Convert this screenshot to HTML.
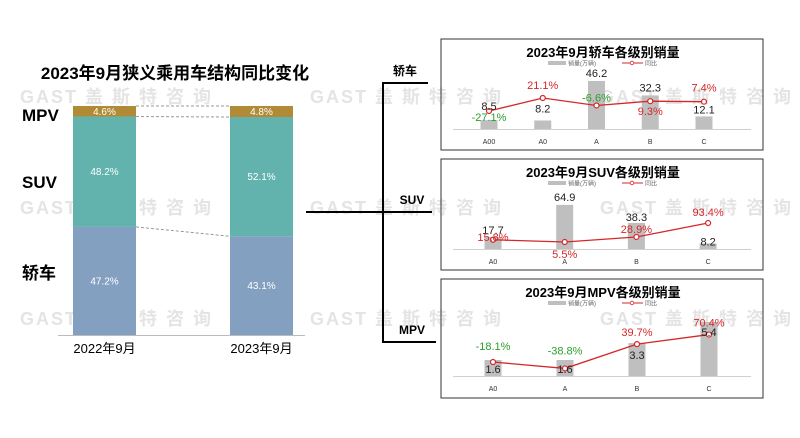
<!DOCTYPE html>
<html><head><meta charset="utf-8"><style>
html,body{margin:0;padding:0;background:#fff;}
svg{display:block;font-family:"Liberation Sans","Noto Sans CJK SC",sans-serif;}
</style></head><body>
<svg id="c" width="800" height="438" viewBox="0 0 800 438" xmlns="http://www.w3.org/2000/svg"></svg>
<script>
// ---- Left stacked chart data ----
const years = ["2022年9月","2023年9月"];
const sedanShare = [47.2, 43.1];
const suvShare = [48.2, 52.1];
const mpvShare = [4.6, 4.8];
// ---- Panel data ----
const sedanCats = ["A00","A0","A","B","C"];
const sedanSales = [8.5, 8.2, 46.2, 32.3, 12.1];
const sedanYoY = [-27.1, 21.1, -6.6, 9.3, 7.4];
const suvCats = ["A0","A","B","C"];
const suvSales = [17.7, 64.9, 38.3, 8.2];
const suvYoY = [15.8, 5.5, 28.9, 93.4];
const mpvCats = ["A0","A","B","C"];
const mpvSales = [1.6, 1.6, 3.3, 5.4];
const mpvYoY = [-18.1, -38.8, 39.7, 70.4];

const NS="http://www.w3.org/2000/svg";
const svg=document.getElementById('c');
function mk(tag,attrs,parent){const e=document.createElementNS(NS,tag);for(const k in attrs)e.setAttribute(k,attrs[k]);(parent||svg).appendChild(e);return e;}
function txt(s,attrs,parent){const e=mk('text',attrs,parent);e.textContent=s;return e;}

// ---- Watermarks (behind) ----
[96,207,318].forEach(y=>{[20,310,600].forEach(x=>{
  const w=txt('GAST 盖 斯 特 咨 询',{x:x,y:y+7,'font-size':18,'font-weight':'bold',fill:'#e4e4e4','letter-spacing':'2'});
  
  
});});

// ---- Left chart ----
const L={base:335,top:106,xs:[73,230],w:63};
const yL=v=>L.base-(v/100)*(L.base-L.top);
let e;
e=txt("2023年9月狭义乘用车结构同比变化",{x:175,y:79,'text-anchor':'middle','font-size':17,'font-weight':'bold',fill:'#000'});

[["MPV",121],["SUV",188],["轿车",279]].forEach(([s,y])=>{
  e=txt(s,{x:22,y:y,'font-size':17,'font-weight':'bold',fill:'#000'});
  
});
const segs=[[sedanShare,'#84a0c0','sedan'],[suvShare,'#62b2ae','suv'],[mpvShare,'#b08a35','mpv']];
const bounds=[];
years.forEach((yr,i)=>{
  let cum=0;const b=[];
  segs.forEach(([arr,col,nm])=>{
    const y0=yL(cum),y1=yL(cum+arr[i]);
    e=mk('rect',{x:L.xs[i],y:y1,width:L.w,height:y0-y1,fill:col});
    
    e=txt(arr[i].toFixed(1)+'%',{x:L.xs[i]+L.w/2,y:(y0+y1)/2+3.5,'text-anchor':'middle','font-size':10,fill:'#fff'});
    
    cum+=arr[i];b.push(y1);
  });
  bounds.push(b);
  e=txt(yr,{x:L.xs[i]+L.w/2,y:353,'text-anchor':'middle','font-size':13,fill:'#000'});
  
});
[0,1,2].forEach(k=>{
  e=mk('line',{x1:L.xs[0]+L.w,y1:bounds[0][k],x2:L.xs[1],y2:bounds[1][k],stroke:'#999','stroke-dasharray':'3,2','stroke-width':1});
  
});
e=mk('line',{x1:58,y1:335.5,x2:305,y2:335.5,stroke:'#bbb','stroke-width':1});


// ---- Bracket ----
const br=mk('g',{});
mk('path',{d:'M428 83 H383 V342 H436 M306 212 H432',stroke:'#000','stroke-width':2,fill:'none'},br);
[["轿车",405,75],["SUV",412,204],["MPV",412,334]].forEach(([s,x,y])=>{
  e=txt(s,{x:x,y:y,'text-anchor':'middle','font-size':12,'font-weight':'bold',fill:'#000'},br);
  
});

// ---- Panels ----
function panel(cfg){
  const g=mk('g',{});
  e=mk('rect',{x:cfg.bx,y:cfg.by,width:322,height:cfg.bh,fill:'none',stroke:'#333','stroke-width':1},g);
  
  e=txt(cfg.title,{x:603,y:cfg.by+18,'text-anchor':'middle','font-size':13,'font-weight':'bold',fill:'#000'},g);
  
  const ly=cfg.by+24;
  const lg=mk('g',{},g);
  mk('rect',{x:548,y:ly-2,width:18,height:4,fill:'#bfbfbf'},lg);
  txt('销量(万辆)',{x:568,y:ly+2.5,'font-size':6,fill:'#666'},lg);
  mk('line',{x1:622,y1:ly,x2:643,y2:ly,stroke:'#d62728','stroke-width':1},lg);
  mk('circle',{cx:632,cy:ly,r:1.8,fill:'#fff',stroke:'#d62728','stroke-width':0.8},lg);
  txt('同比',{x:645,y:ly+2.5,'font-size':6,fill:'#666'},lg);
  const xs=cfg.cats.map((c,i)=>cfg.x0+i*cfg.step);
  const yBar=v=>cfg.base-v*cfg.scale;
  const yPct=v=>cfg.p0-v*cfg.pk;
  e=mk('line',{x1:cfg.bx+12,y1:cfg.base+0.5,x2:cfg.bx+310,y2:cfg.base+0.5,stroke:'#d0d0d0','stroke-width':1},g);
  
  cfg.cats.forEach((c,i)=>{
    const t=yBar(cfg.sales[i]);
    e=mk('rect',{x:xs[i]-8.5,y:t,width:17,height:cfg.base-t,fill:'#bfbfbf'},g);
    
    e=txt(c,{x:xs[i],y:cfg.base+15,'text-anchor':'middle','font-size':7,fill:'#333'},g);
    
  });
  const pts=cfg.yoy.map((v,i)=>[xs[i],yPct(v)]);
  e=mk('polyline',{points:pts.map(p=>p.join(',')).join(' '),stroke:'#d62728','stroke-width':1.3,fill:'none'},g);
  
  cfg.cats.forEach((c,i)=>{
    e=mk('circle',{cx:pts[i][0],cy:pts[i][1],r:2.5,fill:'#fff',stroke:'#d62728','stroke-width':1.2},g);
    
    e=txt(cfg.sales[i].toFixed(1),{x:xs[i],y:yBar(cfg.sales[i])+cfg.sdy[i],'text-anchor':'middle','font-size':11,fill:'#222'},g);
    
    const v=cfg.yoy[i];
    e=txt(v.toFixed(1)+'%',{x:xs[i],y:pts[i][1]+cfg.pdy[i],'text-anchor':'middle','font-size':11,fill:v<0?'#2ca02c':'#d62728'},g);
    
  });
}
panel({name:'sedan-panel',title:'2023年9月轿车各级别销量',bx:441,by:39,bh:111,cats:sedanCats,sales:sedanSales,yoy:sedanYoY,
  x0:489,step:53.75,base:129,scale:1.04,p0:103.7,pk:0.27,sdy:[-10,-8,-4,-4,-3],pdy:[10,-9,-4,14,-10]});
panel({name:'suv-panel',title:'2023年9月SUV各级别销量',bx:441,by:159,bh:111,cats:suvCats,sales:suvSales,yoy:suvYoY,
  x0:493,step:71.7,base:249,scale:0.68,p0:243.2,pk:0.216,sdy:[-3,-4,-2,2],pdy:[1,16,-4,-7]});
panel({name:'mpv-panel',title:'2023年9月MPV各级别销量',bx:441,by:279,bh:119,cats:mpvCats,sales:mpvSales,yoy:mpvYoY,
  x0:493,step:72,base:376,scale:10,p0:356.4,pk:0.31,sdy:[13,13,16,14],pdy:[-12,-14,-8,-8]});
</script>
</body></html>
